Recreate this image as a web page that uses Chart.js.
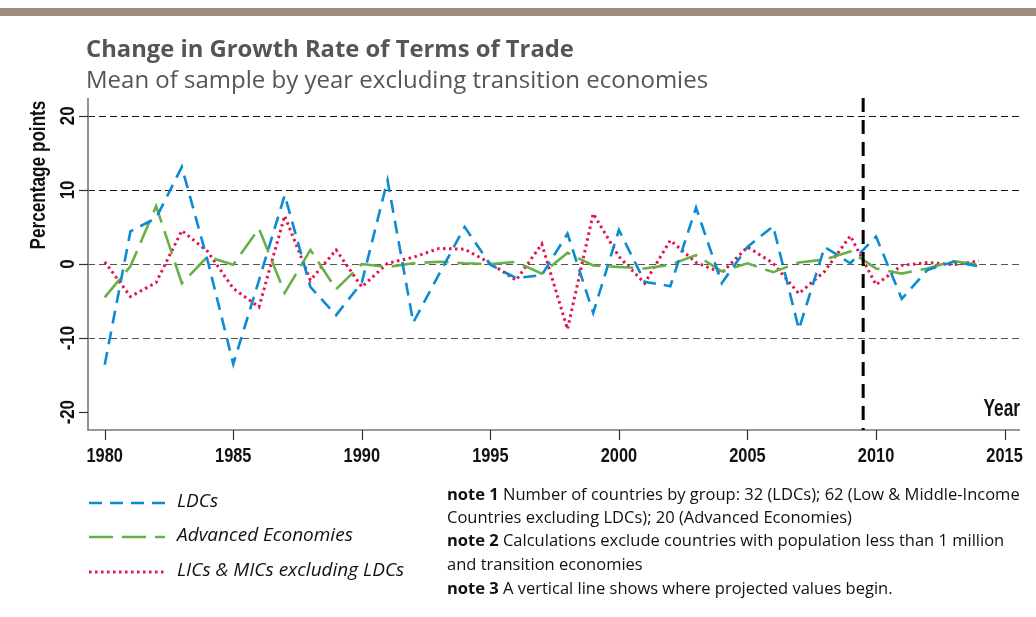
<!DOCTYPE html>
<html>
<head>
<meta charset="utf-8">
<script src="https://cdn.jsdelivr.net/npm/chart.js@4.4.1/dist/chart.umd.min.js"></script>
<style>
  body { margin: 0; background: #fff; }
  #wrap { width: 1036px; height: 617px; position: relative; }
</style>
</head>
<body>
<div id="wrap"><canvas id="tradeChart" width="1036" height="617"></canvas></div>
<script>
// data
const years = [1980, 1981, 1982, 1983, 1984, 1985, 1986, 1987, 1988, 1989,
    1990, 1991, 1992, 1993, 1994, 1995, 1996, 1997, 1998, 1999,
    2000, 2001, 2002, 2003, 2004, 2005, 2006, 2007, 2008, 2009,
    2010, 2011, 2012, 2013, 2014];
const ldcs = [-13.6, 4.4, 6.2, 13.1, 0.5, -13.5, -2.2, 9.3, -3.1, -6.9,
    -2.5, 11.3, -7.9, -1.4, 5.0, -0.1, -1.9, -1.5, 4.1, -6.6,
    4.6, -2.4, -3.0, 7.6, -2.6, 2.3, 5.1, -8.8, 2.3, 0.1,
    3.7, -4.7, -0.8, 0.3, -0.3];
const advanced = [-4.5, -0.3, 7.8, -2.6, 1.0, -0.1, 4.8, -3.9, 1.9, -3.4,
    0.0, -0.4, 0.1, 0.3, 0.1, 0.0, 0.3, -1.3, 1.5, -0.2,
    -0.4, -0.6, -0.1, 1.2, -1.0, 0.1, -1.1, 0.2, 0.6, 1.7,
    -0.6, -1.3, -0.6, 0.4, -0.1];
const licsMics = [0.3, -4.4, -2.5, 4.5, 1.7, -3.3, -5.8, 6.5, -2.2, 1.9,
    -3.1, 0.1, 0.9, 2.1, 2.0, 0.1, -2.2, 2.7, -8.8, 6.8,
    1.0, -2.6, 3.2, 0.2, -1.2, 2.3, 0.1, -4.0, -1.0, 3.8,
    -2.8, -0.2, 0.2, -0.1, 0.4];

const xTicks = [1980, 1985, 1990, 1995, 2000, 2005, 2010, 2015];
const yTicks = [-20, -10, 0, 10, 20];
const gridValues = [-10, 0, 10, 20];
const projectionStart = 2009.5;

const seriesNames = ['LDCs', 'Advanced Economies', 'LICs & MICs excluding LDCs'];
const notes = [
    ['note 1', ' Number of countries by group: 32 (LDCs); 62 (Low & Middle-Income'],
    ['', 'Countries excluding LDCs); 20 (Advanced Economies)'],
    ['note 2', ' Calculations exclude countries with population less than 1 million'],
    ['', 'and transition economies'],
    ['note 3', ' A vertical line shows where projected values begin.']
];

const toPoints = (vals) => years.map((yr, i) => ({ x: yr, y: vals[i] }));

const sans = '"Open Sans", "Noto Sans", sans-serif';
const boldNarrow = (size) => 'bold ' + size + 'px "Liberation Sans", Arial, sans-serif';

// squeeze text sideways to fake a condensed face
function narrowText(ctx, text, x, y, squeeze) {
    ctx.save();
    ctx.translate(x, y);
    ctx.scale(squeeze, 1);
    ctx.fillText(text, 0, 0);
    ctx.restore();
}

// axes, grid, texts and legend drawn with the chart's scales
const decor = {
    id: 'decor',
    beforeDatasetsDraw(chart) {
        const ctx = chart.ctx;
        const xs = chart.scales.x;
        const ys = chart.scales.y;
        const area = chart.chartArea;

        ctx.save();
        // dashed horizontal grid
        ctx.lineWidth = 1.2;
        ctx.setLineDash([7, 4]);
        gridValues.forEach(v => {
            const py = Math.round(ys.getPixelForValue(v)) + 0.5;
            ctx.strokeStyle = v > 0 ? '#111' : '#555';
            ctx.beginPath();
            ctx.moveTo(area.left, py);
            ctx.lineTo(area.right, py);
            ctx.stroke();
        });
        ctx.setLineDash([]);

        // axis lines
        ctx.strokeStyle = '#777';
        ctx.lineWidth = 1.6;
        ctx.beginPath();
        ctx.moveTo(area.left, area.top);
        ctx.lineTo(area.left, area.bottom);
        ctx.lineTo(area.right, area.bottom);
        ctx.stroke();

        // tick marks
        ctx.strokeStyle = '#333';
        ctx.lineWidth = 1.2;
        xTicks.forEach(t => {
            const px = Math.round(xs.getPixelForValue(t)) + 0.5;
            ctx.beginPath();
            ctx.moveTo(px, area.bottom);
            ctx.lineTo(px, area.bottom + 10);
            ctx.stroke();
        });
        yTicks.forEach(t => {
            const py = Math.round(ys.getPixelForValue(t)) + 0.5;
            ctx.beginPath();
            ctx.moveTo(area.left - 9, py);
            ctx.lineTo(area.left, py);
            ctx.stroke();
        });

        // tick labels
        ctx.fillStyle = '#111';
        ctx.font = boldNarrow(21);
        ctx.textAlign = 'center';
        ctx.textBaseline = 'alphabetic';
        xTicks.forEach(t => {
            narrowText(ctx, String(t), xs.getPixelForValue(t), 462, 0.78);
        });
        yTicks.forEach(t => {
            ctx.save();
            ctx.translate(74, ys.getPixelForValue(t));
            ctx.rotate(-Math.PI / 2);
            narrowText(ctx, String(t), 0, 0, 0.8);
            ctx.restore();
        });

        // axis titles
        ctx.save();
        ctx.font = boldNarrow(22);
        ctx.translate(45, 175);
        ctx.rotate(-Math.PI / 2);
        narrowText(ctx, 'Percentage points', 0, 0, 0.78);
        ctx.restore();

        ctx.font = boldNarrow(24);
        ctx.textAlign = 'right';
        narrowText(ctx, 'Year', area.right, 416, 0.72);
        ctx.restore();
    },
    afterDatasetsDraw(chart) {
        const ctx = chart.ctx;
        const xs = chart.scales.x;
        const area = chart.chartArea;

        ctx.save();
        // projection line
        const px = xs.getPixelForValue(projectionStart);
        ctx.strokeStyle = '#000';
        ctx.lineWidth = 3;
        ctx.setLineDash([14, 8]);
        ctx.beginPath();
        ctx.moveTo(px, area.top);
        ctx.lineTo(px, area.bottom);
        ctx.stroke();
        ctx.setLineDash([]);

        // top band
        ctx.fillStyle = '#9e8b7f';
        ctx.fillRect(0, 8, 1036, 8);

        // title
        ctx.fillStyle = '#555';
        ctx.textAlign = 'left';
        ctx.textBaseline = 'middle';
        ctx.font = 'bold 23.8px ' + sans;
        ctx.fillText('Change in Growth Rate of Terms of Trade', 86, 50);
        ctx.font = '24px ' + sans;
        ctx.fillText('Mean of sample by year excluding transition economies', 86, 81);

        // legend
        const legendY = [503, 537, 572];
        chart.data.datasets.forEach((ds, i) => {
            ctx.strokeStyle = ds.borderColor;
            ctx.lineWidth = ds.borderWidth;
            ctx.setLineDash(ds.borderDash);
            ctx.beginPath();
            ctx.moveTo(89, legendY[i]);
            ctx.lineTo(165, legendY[i]);
            ctx.stroke();
            ctx.setLineDash([]);
            ctx.fillStyle = '#111';
            ctx.font = 'italic 19px ' + sans;
            ctx.fillText(seriesNames[i], 177, legendY[i] - 1);
        });

        // notes
        const noteY = [495, 518, 541, 565, 589];
        notes.forEach((n, i) => {
            let x = 447;
            ctx.fillStyle = '#111';
            if (n[0]) {
                ctx.font = 'bold 16.5px ' + sans;
                ctx.fillText(n[0], x, noteY[i]);
                x += ctx.measureText(n[0]).width;
            }
            ctx.font = '16.5px ' + sans;
            ctx.fillText(n[1], x, noteY[i]);
        });
        ctx.restore();
    }
};

const ctx = document.getElementById('tradeChart').getContext('2d');
const tradeChart = new Chart(ctx, {
    type: 'line',
    data: {
        datasets: [{
            label: seriesNames[0],
            data: toPoints(ldcs),
            borderColor: '#0b8bd3',
            borderWidth: 2.6,
            borderDash: [13, 8],
            pointRadius: 0,
            tension: 0
        }, {
            label: seriesNames[1],
            data: toPoints(advanced),
            borderColor: '#67b046',
            borderWidth: 2.6,
            borderDash: [24, 9],
            pointRadius: 0,
            tension: 0
        }, {
            label: seriesNames[2],
            data: toPoints(licsMics),
            borderColor: '#e4134c',
            borderWidth: 3,
            borderDash: [2.5, 3.5],
            pointRadius: 0,
            tension: 0
        }]
    },
    options: {
        responsive: false,
        animation: false,
        layout: {
            padding: { left: 88, right: 16, top: 98, bottom: 187 }
        },
        scales: {
            x: { type: 'linear', min: 1979.35, max: 2015.6, display: false },
            y: { min: -22.4, max: 22.4, display: false }
        },
        plugins: {
            legend: { display: false },
            tooltip: { enabled: false }
        }
    },
    plugins: [decor]
});
</script>
</body>
</html>
